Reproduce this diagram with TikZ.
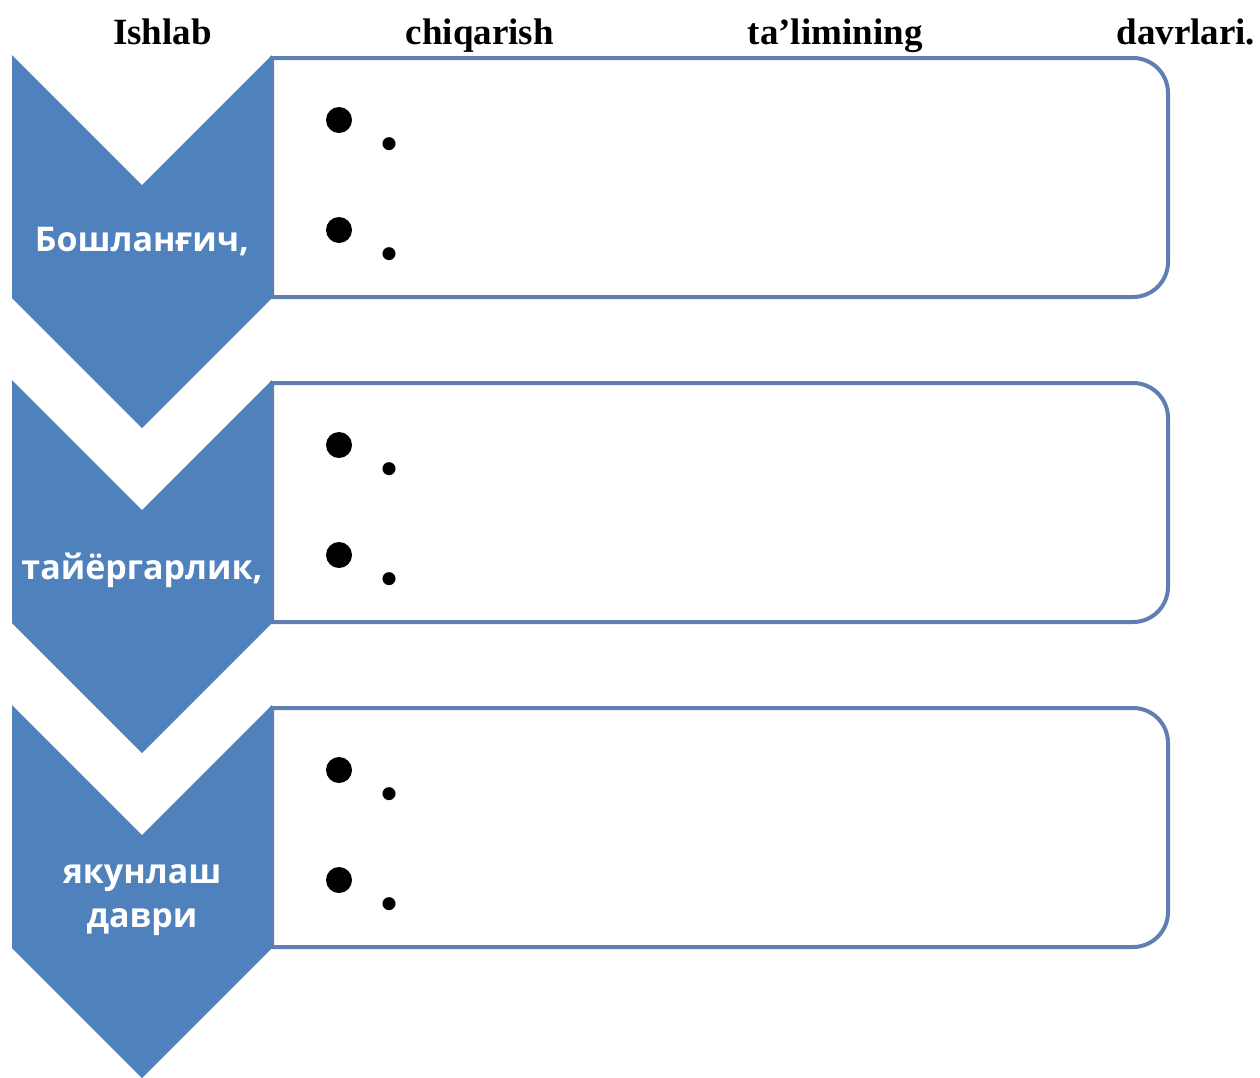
\documentclass[tikz,border=0pt]{standalone}
\usepackage{fontspec}
\setmainfont{Liberation Serif}
\newfontfamily\chevfont{Open Sans}
\definecolor{chevblue}{RGB}{79,129,189}
\definecolor{boxline}{RGB}{95,126,178}
\tikzset{
  chevron/.style={fill=chevblue, draw=none},
  panel/.style={draw=boxline, line width=4pt, fill=white},
  chevlabel/.style={text=white, font=\chevfont\bfseries\fontsize{34}{44}\selectfont, align=center, inner sep=0pt},
  bulletdot/.style={circle, fill=black, minimum size=26pt, inner sep=0pt},
  periodtext/.style={font=\bfseries\fontsize{80}{80}\selectfont, inner sep=0pt, anchor=base},
  titletext/.style={font=\bfseries\fontsize{37}{40}\selectfont, inner sep=0pt, anchor=base west}
}
\begin{document}
\begin{tikzpicture}[x=1pt,y=-1pt]
\useasboundingbox (0,0) rectangle (1260,1077);
\node[titletext] (title) at (113,44) {\makebox[1142pt][s]{Ishlab chiqarish ta’limining davrlari.}};
\foreach \t/\n in {55/a,380/b,705/c}{
  \path[panel] (272,\t+3) -- (1133,\t+3) arc[start angle=-90,end angle=0,radius=35]
    -- (1168,\t+207) arc[start angle=0,end angle=90,radius=35] -- (272,\t+242) -- cycle;
  \path[chevron] (12,\t) -- (142,\t+130) -- (272,\t) -- (272,\t+243) -- (142,\t+373) -- (12,\t+243) -- cycle;
  \node[bulletdot] (\n1) at (339,\t+65) {};
  \node[periodtext] (\n1p) at (389,\t+94) {.};
  \node[bulletdot] (\n2) at (339,\t+175) {};
  \node[periodtext] (\n2p) at (389,\t+204) {.};
}
\node[chevlabel] (la) at (142,242) {Бошланғич,};
\node[chevlabel] (lb) at (142,570) {тайёргарлик,};
\node[chevlabel] (lc) at (142,900) {якунлаш\\даври};
\end{tikzpicture}
\end{document}
